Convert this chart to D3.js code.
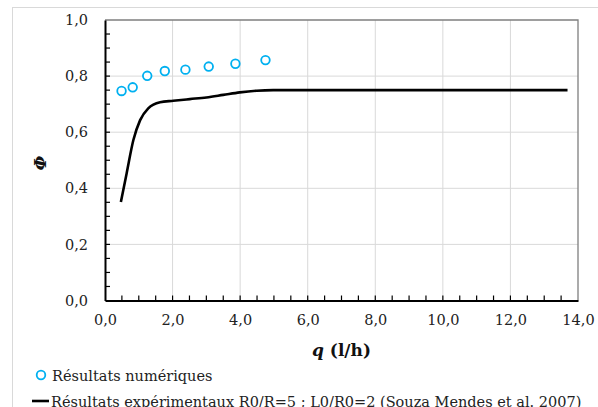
<!DOCTYPE html>
<html><head><meta charset="utf-8">
<script src="https://cdn.jsdelivr.net/npm/d3@7/dist/d3.min.js"></script>
<style>body{margin:0;background:#fff}svg{display:block}</style>
</head><body><svg id="c" width="598" height="407"></svg>
<script>
const numQ = [0.49, 0.82, 1.25, 1.77, 2.38, 3.07, 3.86, 4.75];
const numPhi = [0.747, 0.760, 0.801, 0.818, 0.823, 0.834, 0.844, 0.857];
const expQ = [0.47, 0.64, 0.84, 1.04, 1.28, 1.63, 2.02, 2.51, 3.0, 3.5, 3.99, 4.49, 4.98, 6.0, 8.0, 10.0, 12.0, 13.69];
const expPhi = [0.351, 0.453, 0.572, 0.643, 0.685, 0.707, 0.712, 0.718, 0.724, 0.733, 0.742, 0.748, 0.750, 0.750, 0.750, 0.750, 0.750, 0.750];
const xTicks = [0, 2, 4, 6, 8, 10, 12, 14];
const yTicks = [0, 0.2, 0.4, 0.6, 0.8, 1.0];
const legendLabels = ["Résultats numériques", "Résultats expérimentaux R0/R=5 ; L0/R0=2 (Souza Mendes et al. 2007)"];
const xTitle = "q", xUnit = " (l/h)", yTitle = "Φ";

const FONT = "DejaVu Serif";
const svg = d3.select("#c");
const L = 105, R = 578, T = 20, B = 300.5;
const x = d3.scaleLinear().domain([0, 14]).range([L, R]);
const y = d3.scaleLinear().domain([0, 1]).range([B, T]);
const fmt = v => d3.format(".1f")(v).replace(".", ",");

svg.append("rect").attr("x", 12.5).attr("y", 7.5).attr("width", 640).attr("height", 440)
  .attr("fill", "none").attr("stroke", "#d9d9d9");

const g = svg.append("g");
g.selectAll(".gx").data(xTicks.slice(1, -1)).join("line")
  .attr("x1", d => x(d)).attr("x2", d => x(d)).attr("y1", T).attr("y2", B)
  .attr("stroke", "#d9d9d9").attr("stroke-width", 1);
g.selectAll(".gy").data(yTicks.slice(1, -1)).join("line")
  .attr("y1", d => y(d)).attr("y2", d => y(d)).attr("x1", L).attr("x2", R)
  .attr("stroke", "#d9d9d9").attr("stroke-width", 1);
svg.append("path").attr("d", `M${L},${T}H${R}V${B}`).attr("fill", "none").attr("stroke", "#7f7f7f").attr("stroke-width", 1.3);

const xAxis = d3.axisBottom(x).tickValues(xTicks).tickFormat(fmt).tickSize(0).tickPadding(14);
const gx = svg.append("g").attr("transform", `translate(0,${B})`).call(xAxis);
const yAxis = d3.axisLeft(y).tickValues(yTicks).tickFormat(fmt).tickSize(0).tickPadding(17);
const gy = svg.append("g").attr("transform", `translate(${L},0)`).call(yAxis);
[gx, gy].forEach(a => {
  a.attr("font-family", FONT);
  a.select(".domain").attr("stroke", "#000").attr("stroke-width", 2);
  a.selectAll("text").style("font-family", FONT).attr("font-size", 14.5).attr("fill", "#222");
});
svg.append("g").selectAll("line").data(d3.range(0.5, 14, 0.5)).join("line")
  .attr("x1", d => x(d)).attr("x2", d => x(d)).attr("y1", B).attr("y2", B - 5)
  .attr("stroke", "#000").attr("stroke-width", 1.2);
svg.append("g").selectAll("line").data(d3.range(0.05, 1.0, 0.05)).join("line")
  .attr("y1", d => y(d)).attr("y2", d => y(d)).attr("x1", L).attr("x2", L + 5)
  .attr("stroke", "#000").attr("stroke-width", 1.2);

const pts = expQ.map((q, i) => [q, expPhi[i]]);
svg.append("path").datum(pts)
  .attr("d", d3.line().x(d => x(d[0])).y(d => y(d[1])).curve(d3.curveMonotoneX))
  .attr("fill", "none").attr("stroke", "#000").attr("stroke-width", 2.6);

svg.append("g").selectAll("circle").data(numQ.map((q, i) => [q, numPhi[i]])).join("circle")
  .attr("cx", d => x(d[0])).attr("cy", d => y(d[1])).attr("r", 4.3)
  .attr("fill", "#fff").attr("stroke", "#00b0f0").attr("stroke-width", 1.8);

const xt = svg.append("text").attr("x", (L + R) / 2).attr("y", 356).attr("text-anchor", "middle")
  .style("font-family", FONT).attr("font-size", 17).attr("font-weight", "bold").attr("fill", "#111");
xt.append("tspan").attr("font-style", "italic").text(xTitle);
xt.append("tspan").text(xUnit);
svg.append("text").attr("transform", "translate(46,163) rotate(-90)").attr("text-anchor", "middle")
  .style("font-family", FONT).attr("font-size", 17).attr("font-weight", "bold").attr("font-style", "italic")
  .attr("fill", "#111").text(yTitle);

svg.append("circle").attr("cx", 41).attr("cy", 375).attr("r", 4.3).attr("fill", "#fff")
  .attr("stroke", "#00b0f0").attr("stroke-width", 1.8);
svg.append("text").attr("x", 52).attr("y", 380.5).style("font-family", FONT).attr("font-size", 14.5)
  .attr("fill", "#222").text(legendLabels[0]);
svg.append("line").attr("x1", 32).attr("x2", 49).attr("y1", 401).attr("y2", 401)
  .attr("stroke", "#000").attr("stroke-width", 2.6);
svg.append("text").attr("x", 51).attr("y", 406.5).style("font-family", FONT).attr("font-size", 14.5)
  .attr("fill", "#222").text(legendLabels[1]);
</script></body></html>
